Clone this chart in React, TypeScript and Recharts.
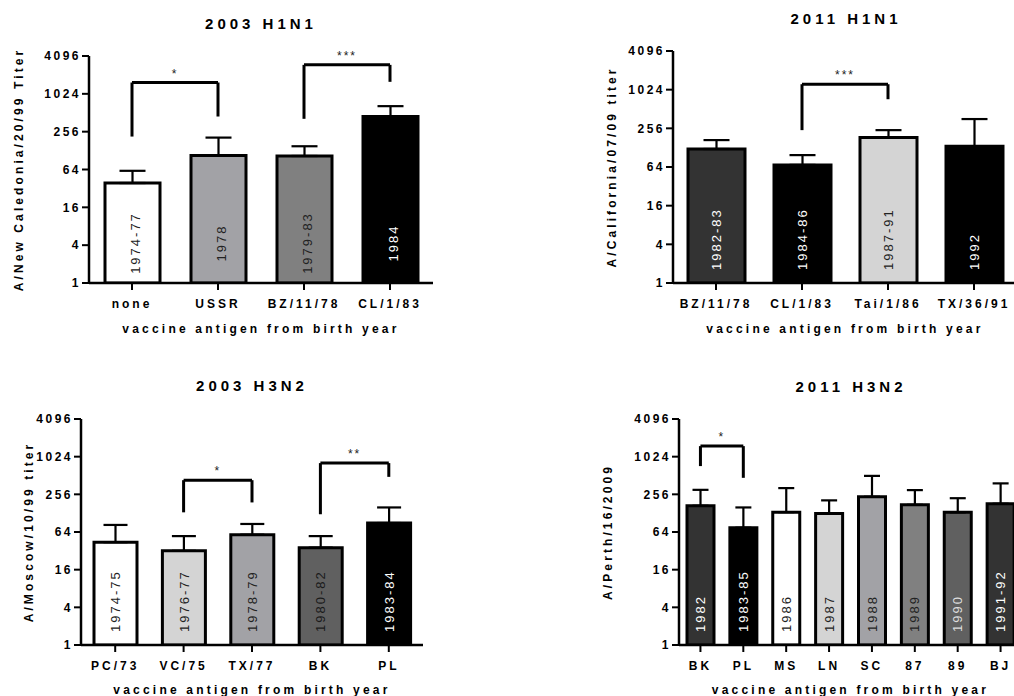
import { BarChart, Bar, XAxis, YAxis, ErrorBar, LabelList, ReferenceLine, Cell } from 'recharts'

const FONT = '"Liberation Sans", Arial, Helvetica, sans-serif'
const titerTicks = [1, 4, 16, 64, 256, 1024, 4096]
const xAxisTitle = 'vaccine antigen from birth year'

// 2003 H1N1
const h1n1_03_antigen = ['none', 'USSR', 'BZ/11/78', 'CL/1/83']
const h1n1_03_birth = ['1974-77', '1978', '1979-83', '1984']
const h1n1_03_titer = [39, 107, 105, 446]
const h1n1_03_upper = [61, 206, 150, 652]
const h1n1_03_sig = [
  { from: 'none', to: 'USSR', top: 1550, fromEnd: 214, toEnd: 446, mark: '*' },
  { from: 'BZ/11/78', to: 'CL/1/83', top: 2960, fromEnd: 410, toEnd: 1590, mark: '***' },
]

// 2011 H1N1
const h1n1_11_antigen = ['BZ/11/78', 'CL/1/83', 'Tai/1/86', 'TX/36/91']
const h1n1_11_birth = ['1982-83', '1984-86', '1987-91', '1992']
const h1n1_11_titer = [122, 69, 185, 135]
const h1n1_11_upper = [168, 98, 240, 357]
const h1n1_11_sig = [
  { from: 'CL/1/83', to: 'Tai/1/86', top: 1245, fromEnd: 240, toEnd: 727, mark: '***' },
]

// 2003 H3N2
const h3n2_03_antigen = ['PC/73', 'VC/75', 'TX/77', 'BK', 'PL']
const h3n2_03_birth = ['1974-75', '1976-77', '1978-79', '1980-82', '1983-84']
const h3n2_03_titer = [44, 32, 58, 36, 89]
const h3n2_03_upper = [83, 55, 86, 55, 158]
const h3n2_03_sig = [
  { from: 'VC/75', to: 'TX/77', top: 431, fromEnd: 132, toEnd: 190, mark: '*' },
  { from: 'BK', to: 'PL', top: 808, fromEnd: 123, toEnd: 487, mark: '**' },
]

// 2011 H3N2
const h3n2_11_antigen = ['BK', 'PL', 'MS', 'LN', 'SC', '87', '89', 'BJ']
const h3n2_11_birth = ['1982', '1983-85', '1986', '1987', '1988', '1989', '1990', '1991-92']
const h3n2_11_titer = [168, 75, 133, 127, 234, 174, 132, 181]
const h3n2_11_upper = [302, 158, 322, 205, 505, 299, 222, 383]
const h3n2_11_sig = [
  { from: 'BK', to: 'PL', top: 1510, fromEnd: 724, toEnd: 470, mark: '*' },
]

type Sig = { from: string; to: string; top: number; fromEnd: number; toEnd: number; mark: string }

function toRows(antigen: string[], birth: string[], titer: number[], upper: number[]) {
  return antigen.map((a, i) => ({
    antigen: a,
    birth: birth[i],
    titer: titer[i],
    err: [0, upper[i] - titer[i]],
  }))
}

interface PanelProps {
  left: number
  top: number
  w: number
  h: number
  plot: { left: number; top: number; right: number; bottom: number }
  title: string
  titleAt: [number, number]
  yLabel: string
  yLabelX: number
  xTitleY: number
  antigen: string[]
  birth: string[]
  titer: number[]
  upper: number[]
  sig: Sig[]
  fills: string[]
  inks: string[]
  barSize: number
  cap: number
  centerYears?: boolean
  yearDx?: number
}

function Panel(p: PanelProps) {
  const rows = toRows(p.antigen, p.birth, p.titer, p.upper)
  const { plot } = p

  const xTick = (t: any) => (
    <text x={t.x} y={t.y} dy={18} textAnchor="middle" fontFamily={FONT} fontSize={12} fontWeight="bold"
      letterSpacing={3} fill="#000">
      {t.payload.value}
    </text>
  )
  const yTick = (t: any) => (
    <text x={t.x} y={t.y} dy={4.3} textAnchor="end" fontFamily={FONT} fontSize={12} fontWeight="bold"
      letterSpacing={2.5} fill="#000">
      {t.payload.value}
    </text>
  )
  const xTitle = () => (
    <text x={(plot.left + plot.right) / 2} y={p.xTitleY} textAnchor="middle" fontFamily={FONT} fontSize={12}
      fontWeight="bold" letterSpacing={3.2} fill="#000">
      {xAxisTitle}
    </text>
  )
  const yTitle = () => (
    <text transform={`translate(${p.yLabelX},${(plot.top + plot.bottom) / 2}) rotate(-90)`} dy={4.3}
      textAnchor="middle" fontFamily={FONT} fontSize={12} fontWeight="bold" letterSpacing={3.1} fill="#000">
      {p.yLabel}
    </text>
  )
  const yearLabel = (l: any) => {
    const vb = l.viewBox && l.viewBox.width !== undefined ? l.viewBox : l
    const i = p.birth.indexOf(String(l.value))
    const cx = vb.x + vb.width / 2 + (p.yearDx ?? 0)
    const bottom = vb.y + vb.height
    const cy = p.centerYears ? bottom - 40 : bottom - 13
    return (
      <text transform={`translate(${cx},${cy}) rotate(-90)`} dy={4.6} textAnchor={p.centerYears ? 'middle' : 'start'}
        fontFamily={FONT} fontSize={13} letterSpacing={2} fill={p.inks[i] ?? '#222'}>
        {l.value}
      </text>
    )
  }

  return (
    <div style={{ position: 'absolute', left: p.left, top: p.top, width: p.w, height: p.h }}>
      <BarChart width={p.w} height={p.h} data={rows}
        margin={{ top: plot.top, right: p.w - plot.right, bottom: 0, left: 0 }}>
        <XAxis dataKey="antigen" height={p.h - plot.bottom} interval={0} tickSize={7} tickMargin={0}
          axisLine={{ stroke: '#000', strokeWidth: 2.5 }} tickLine={{ stroke: '#000', strokeWidth: 2 }}
          tick={xTick} label={{ value: xAxisTitle, content: xTitle }} />
        <YAxis type="number" scale="log" domain={[1, 4096]} ticks={titerTicks} allowDataOverflow interval={0}
          width={plot.left} tickSize={7} tickMargin={1}
          axisLine={{ stroke: '#000', strokeWidth: 2.5 }} tickLine={{ stroke: '#000', strokeWidth: 2 }}
          tick={yTick} label={{ value: p.yLabel, content: yTitle }} />
        {p.sig.map((s, k) => (
          <ReferenceLine key={`h${k}`} segment={[{ x: s.from, y: s.top }, { x: s.to, y: s.top }]}
            stroke="#000" strokeWidth={3}
            label={{ value: s.mark, position: 'top', offset: 5, fill: '#222', fontSize: 12, fontFamily: FONT, letterSpacing: 2 }} />
        ))}
        {p.sig.map((s, k) => (
          <ReferenceLine key={`l${k}`} segment={[{ x: s.from, y: s.fromEnd }, { x: s.from, y: s.top }]}
            stroke="#000" strokeWidth={3} />
        ))}
        {p.sig.map((s, k) => (
          <ReferenceLine key={`r${k}`} segment={[{ x: s.to, y: s.toEnd }, { x: s.to, y: s.top }]}
            stroke="#000" strokeWidth={3} />
        ))}
        <Bar dataKey="titer" barSize={p.barSize} stroke="#000" strokeWidth={3} isAnimationActive={false}>
          {rows.map((r, i) => (
            <Cell key={r.antigen} fill={p.fills[i]} />
          ))}
          <ErrorBar dataKey="err" direction="y" width={p.cap} stroke="#000" strokeWidth={2.2} />
          <LabelList dataKey="birth" content={yearLabel} />
        </Bar>
      </BarChart>
      <div style={{
        position: 'absolute', left: p.titleAt[0] - 150, width: 300, top: p.titleAt[1] - 7.5,
        lineHeight: '15px', textAlign: 'center', fontFamily: FONT, fontSize: 15, fontWeight: 'bold',
        letterSpacing: 4, paddingLeft: 4, boxSizing: 'border-box', color: '#000', pointerEvents: 'none',
      }}>
        {p.title}
      </div>
    </div>
  )
}

export default function App() {
  return (
    <div style={{ position: 'absolute', left: 0, top: 0, width: 1014, height: 696, overflow: 'hidden', background: '#fff' }}>
      <Panel left={0} top={0} w={500} h={340} plot={{ left: 89, top: 56, right: 433, bottom: 283 }}
        title="2003 H1N1" titleAt={[259, 23]} yLabel="A/New Caledonia/20/99 Titer" yLabelX={19} xTitleY={333}
        antigen={h1n1_03_antigen} birth={h1n1_03_birth} titer={h1n1_03_titer} upper={h1n1_03_upper} sig={h1n1_03_sig}
        fills={['#ffffff', '#a2a2a6', '#808080', '#000000']} inks={['#222', '#222', '#222', '#fff']}
        barSize={55} cap={13} centerYears yearDx={3} />
      <Panel left={500} top={0} w={520} h={340} plot={{ left: 173, top: 51, right: 517, bottom: 283 }}
        title="2011 H1N1" titleAt={[344, 18]} yLabel="A/California/07/09 titer" yLabelX={112} xTitleY={333}
        antigen={h1n1_11_antigen} birth={h1n1_11_birth} titer={h1n1_11_titer} upper={h1n1_11_upper} sig={h1n1_11_sig}
        fills={['#333333', '#000000', '#d4d4d4', '#000000']} inks={['#fff', '#fff', '#222', '#fff']}
        barSize={57} cap={13} />
      <Panel left={0} top={340} w={500} h={356} plot={{ left: 81, top: 79, right: 423, bottom: 305 }}
        title="2003 H3N2" titleAt={[250, 45]} yLabel="A/Moscow/10/99 titer" yLabelX={29} xTitleY={354}
        antigen={h3n2_03_antigen} birth={h3n2_03_birth} titer={h3n2_03_titer} upper={h3n2_03_upper} sig={h3n2_03_sig}
        fills={['#ffffff', '#d4d4d4', '#a2a2a6', '#606060', '#000000']} inks={['#222', '#222', '#222', '#1a1a1a', '#fff']}
        barSize={43} cap={12} />
      <Panel left={500} top={340} w={530} h={356} plot={{ left: 179, top: 79, right: 522, bottom: 305 }}
        title="2011 H3N2" titleAt={[349, 46]} yLabel="A/Perth/16/2009" yLabelX={108} xTitleY={354}
        antigen={h3n2_11_antigen} birth={h3n2_11_birth} titer={h3n2_11_titer} upper={h3n2_11_upper} sig={h3n2_11_sig}
        fills={['#333333', '#000000', '#ffffff', '#d4d4d4', '#a2a2a6', '#808080', '#606060', '#333333']}
        inks={['#fff', '#fff', '#222', '#222', '#222', '#222', '#ddd', '#fff']}
        barSize={27} cap={8} />
    </div>
  )
}
